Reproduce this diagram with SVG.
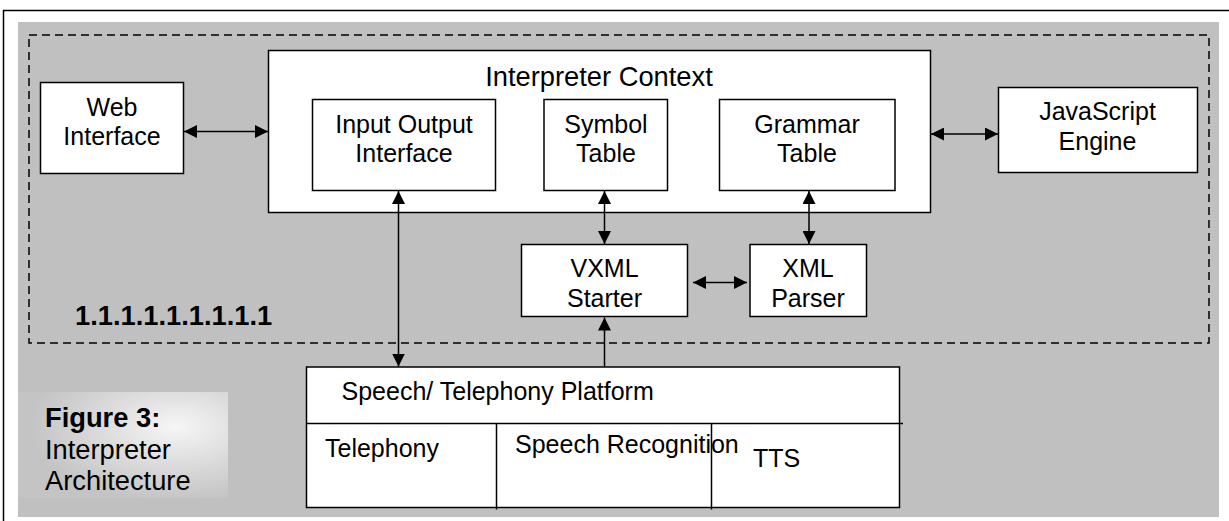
<svg xmlns="http://www.w3.org/2000/svg" width="1229" height="521" viewBox="0 0 1229 521">
<style>
.box{fill:#fff;stroke:#000;stroke-width:1.5}
.t{font-family:"Liberation Sans",Arial,sans-serif;font-size:25px;fill:#000}
.big{font-size:27.3px}
.c{text-anchor:middle}
.b{font-weight:bold}
.ln{stroke:#000;stroke-width:1.5;fill:none}
</style>
<defs>
<marker id="ah" markerUnits="userSpaceOnUse" markerWidth="14" markerHeight="13" viewBox="0 0 14 13" refX="13" refY="6.5" orient="auto-start-reverse">
<path d="M0,0 L13,6.5 L0,13 z" fill="#000"/>
</marker>
<radialGradient id="glow" cx="0.75" cy="0.33" r="0.7">
<stop offset="0" stop-color="#f6f6f6"/>
<stop offset="0.5" stop-color="#dcdcdc"/>
<stop offset="1" stop-color="#c4c4c4"/>
</radialGradient>
</defs>
<rect x="3.5" y="10.5" width="1235" height="520" fill="#fff" stroke="#000" stroke-width="1.5"/>
<rect x="18" y="22" width="1201" height="495" fill="#c0c0c0"/>
<rect x="29" y="35" width="1180" height="308" fill="none" stroke="#000" stroke-width="1.5" stroke-dasharray="8 5"/>
<text class="t b big" x="75" y="325">1.1.1.1.1.1.1.1.1</text>
<g id="caption">
<rect x="18" y="392" width="210" height="106" fill="url(#glow)"/>
<text class="t b big" x="45" y="427">Figure 3:</text>
<text class="t big" x="45" y="459">Interpreter</text>
<text class="t big" x="45" y="490">Architecture</text>
</g>
<g id="web-interface">
<rect class="box" x="40.5" y="82.5" width="143" height="91"/>
<text class="t c" x="112" y="116">Web</text>
<text class="t c" x="112" y="145">Interface</text>
</g>
<g id="interpreter-context">
<rect class="box" x="268.5" y="50.5" width="662" height="162"/>
<text class="t c big" x="599" y="86">Interpreter Context</text>
</g>
<g id="io-interface">
<rect class="box" x="312.5" y="99.5" width="183" height="91"/>
<text class="t c" x="404" y="133">Input Output</text>
<text class="t c" x="404" y="161.5">Interface</text>
</g>
<g id="symbol-table">
<rect class="box" x="544" y="99.5" width="123.5" height="91"/>
<text class="t c" x="606" y="133">Symbol</text>
<text class="t c" x="606" y="161.5">Table</text>
</g>
<g id="grammar-table">
<rect class="box" x="719.5" y="99.5" width="175.5" height="91"/>
<text class="t c" x="807" y="133">Grammar</text>
<text class="t c" x="807" y="161.5">Table</text>
</g>
<g id="javascript-engine">
<rect class="box" x="998.5" y="87.5" width="199" height="85"/>
<text class="t c" x="1097.5" y="120">JavaScript</text>
<text class="t c" x="1097.5" y="150">Engine</text>
</g>
<g id="vxml-starter">
<rect class="box" x="521.5" y="244.5" width="166" height="72"/>
<text class="t c" x="604.5" y="277">VXML</text>
<text class="t c" x="604.5" y="307">Starter</text>
</g>
<g id="xml-parser">
<rect class="box" x="750" y="244.5" width="116.5" height="72"/>
<text class="t c" x="808" y="277">XML</text>
<text class="t c" x="808" y="307">Parser</text>
</g>
<g id="platform">
<rect class="box" x="306.5" y="367" width="593" height="140.5"/>
<line class="ln" x1="306.5" y1="423.5" x2="903" y2="423.5"/>
<line class="ln" x1="496.5" y1="423.5" x2="496.5" y2="509.5"/>
<line class="ln" x1="711.5" y1="423.5" x2="711.5" y2="509.5"/>
<text class="t" x="341.5" y="400">Speech/ Telephony Platform</text>
<text class="t" x="325" y="457">Telephony</text>
<text class="t" x="515" y="453">Speech Recognition</text>
<text class="t" x="753" y="467">TTS</text>
</g>
<g id="connectors">
<line class="ln" x1="184" y1="131.5" x2="268" y2="131.5" marker-start="url(#ah)" marker-end="url(#ah)"/>
<line class="ln" x1="931" y1="134" x2="998" y2="134" marker-start="url(#ah)" marker-end="url(#ah)"/>
<line class="ln" x1="604.5" y1="191" x2="604.5" y2="244" marker-start="url(#ah)" marker-end="url(#ah)"/>
<line class="ln" x1="809" y1="191" x2="809" y2="244" marker-start="url(#ah)" marker-end="url(#ah)"/>
<line class="ln" x1="693" y1="282.5" x2="747" y2="282.5" marker-start="url(#ah)" marker-end="url(#ah)"/>
<line class="ln" x1="398.5" y1="191" x2="398.5" y2="366.5" marker-start="url(#ah)" marker-end="url(#ah)"/>
<line class="ln" x1="604.5" y1="366.5" x2="604.5" y2="317.5" marker-end="url(#ah)"/>
</g>
</svg>
